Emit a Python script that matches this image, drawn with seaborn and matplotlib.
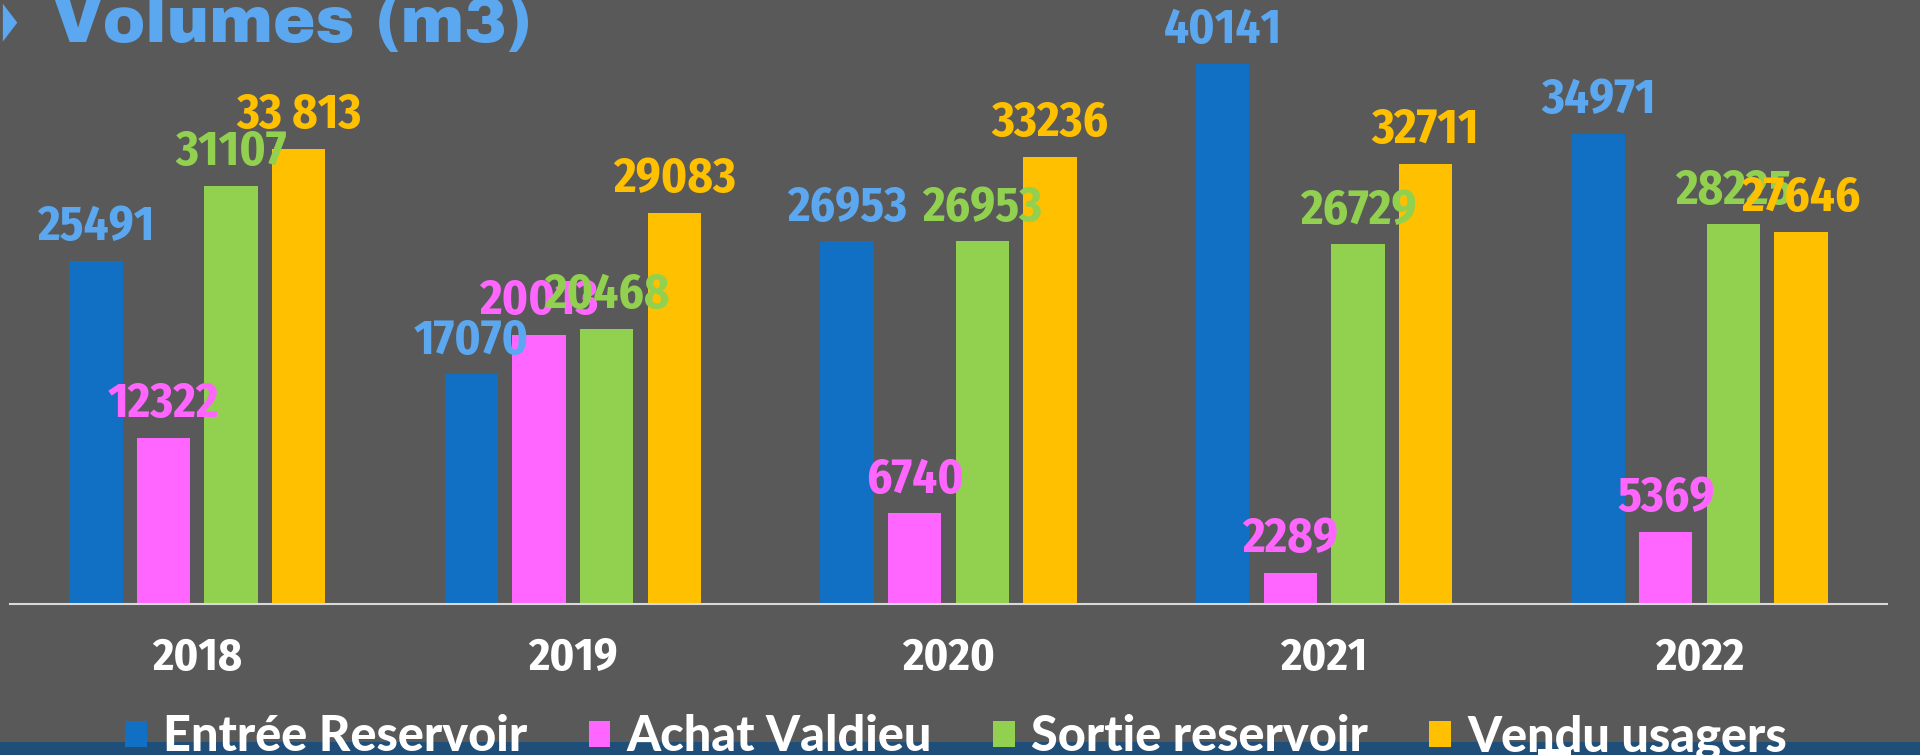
import matplotlib
matplotlib.use("Agg")
import matplotlib.pyplot as plt
from matplotlib.patches import Polygon, Rectangle
import pandas as pd
import seaborn as sns

years = ["2018", "2019", "2020", "2021", "2022"]
series = ["Entrée Reservoir", "Achat Valdieu", "Sortie reservoir", "Vendu usagers"]
entree = [25491, 17070, 26953, 40141, 34971]
achat = [12322, 20013, 6740, 2289, 5369]
sortie = [31107, 20468, 26953, 26729, 28225]
vendu = [33813, 29083, 33236, 32711, 27646]
vendu_text = ["33 813", "29083", "33236", "32711", "27646"]

bar_colors = ["#1170C4", "#FF66FF", "#92D050", "#FFC000"]
label_colors = ["#5BA8F0", "#FF66FF", "#92D050", "#FFC000"]
bg = "#595959"

df = pd.DataFrame({"year": years, series[0]: entree, series[1]: achat,
                   series[2]: sortie, series[3]: vendu})
long = df.melt(id_vars="year", var_name="series", value_name="value")

sns.set_style("white", {"axes.facecolor": bg, "figure.facecolor": bg})
plt.rcParams["font.family"] = ["Fira Sans Condensed", "DejaVu Sans"]

fig = plt.figure(figsize=(19.2, 7.55), dpi=100)
ax = fig.add_axes([0.005, 0.2, 0.978, 0.8])

sns.barplot(data=long, x="year", y="value", hue="series", hue_order=series,
            order=years, palette=bar_colors, width=0.72, gap=0.21,
            saturation=1, linewidth=0, ax=ax)

handles, labels = ax.get_legend_handles_labels()
ax.legend_.remove()

texts = [[str(v) for v in entree], [str(v) for v in achat],
         [str(v) for v in sortie], vendu_text]
for cont, txt, col in zip(ax.containers, texts, label_colors):
    ax.bar_label(cont, labels=txt, padding=7, color=col, fontsize=35,
                 fontweight="bold")

ax.set_ylim(0, 44900)
ax.set_xlim(-0.5, 4.5)
ax.set_xlabel("")
ax.set_ylabel("")
ax.set_yticks([])
for s in ["top", "right", "left"]:
    ax.spines[s].set_visible(False)
ax.spines["bottom"].set_color("#D9D9D9")
ax.spines["bottom"].set_linewidth(1.5)
ax.tick_params(axis="x", length=0, pad=23, labelsize=33, labelcolor="white")
for t in ax.get_xticklabels():
    t.set_fontweight("bold")

fig.text(0.0276, 0.944, "Volumes (m3)", color="#5BA8F0", fontsize=46,
         family=["Archivo Black", "DejaVu Sans"], ha="left", va="baseline")
fig.patches.append(Polygon([[0.0015, 0.995], [0.009, 0.97], [0.0015, 0.945]],
                           closed=True, transform=fig.transFigure,
                           facecolor="#5BA8F0", edgecolor="none"))

fig.patches.append(Rectangle((0, 0), 1, 0.0172, transform=fig.transFigure,
                             facecolor="#1F4E79", edgecolor="none", zorder=0.5))
fig.patches.append(Rectangle((0.801, 0), 0.017, 0.008, transform=fig.transFigure,
                             facecolor="white", edgecolor="none", zorder=0.6))

fig.legend(handles, labels, loc="center", bbox_to_anchor=(0.498, 0.024),
           ncol=4, frameon=False, handlelength=0.45, handleheight=0.45,
           handletextpad=0.34, columnspacing=1.25, labelcolor="white",
           prop={"family": ["Lato", "DejaVu Sans"], "weight": 900, "size": 35})

fig.savefig("out.png", dpi=100, facecolor=bg)
